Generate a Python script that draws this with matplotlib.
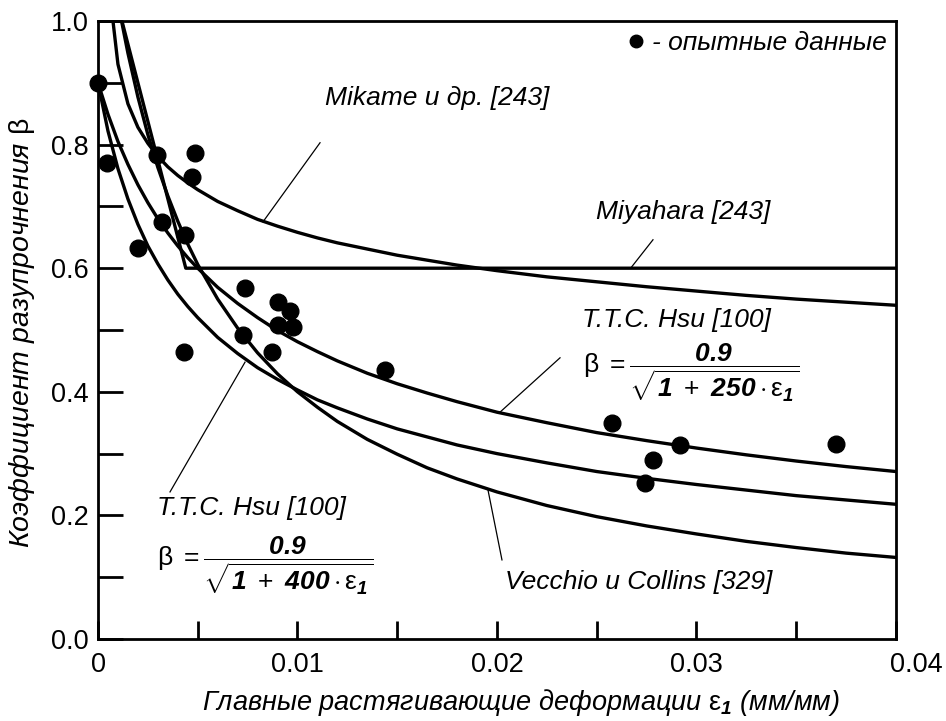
import matplotlib
matplotlib.use('Agg')
import matplotlib.pyplot as plt
from matplotlib.ticker import MultipleLocator, FixedLocator
from matplotlib.transforms import ScaledTranslation

plt.rcParams['font.family'] = ['Liberation Sans', 'DejaVu Sans']
plt.rcParams['mathtext.fontset'] = 'custom'
plt.rcParams['mathtext.rm'] = 'Liberation Sans'
plt.rcParams['mathtext.it'] = 'Liberation Sans:italic'
plt.rcParams['mathtext.bf'] = 'Liberation Sans:bold:italic'

# experimental points (strain, beta)
exp_eps = [0.0, 0.00045, 0.0020, 0.00296, 0.0032, 0.00431, 0.00436, 0.00471, 0.00486,
           0.00727, 0.00737, 0.00872, 0.00902, 0.00902, 0.00962, 0.00977, 0.01439,
           0.02576, 0.02742, 0.02782, 0.02917, 0.0370]
exp_beta = [0.900, 0.770, 0.633, 0.783, 0.675, 0.464, 0.654, 0.748, 0.786,
            0.492, 0.568, 0.464, 0.545, 0.508, 0.531, 0.505, 0.435,
            0.349, 0.252, 0.290, 0.314, 0.316]

# Hsu curves
hsu_eps = [0.0, 0.0005, 0.001, 0.0015, 0.002, 0.0025, 0.003, 0.0035, 0.004, 0.0045,
           0.005, 0.006, 0.007, 0.008, 0.009, 0.01, 0.011, 0.012, 0.0135, 0.015,
           0.0165, 0.018, 0.02, 0.0225, 0.025, 0.0275, 0.03, 0.0325, 0.035, 0.0375, 0.04]
hsu250_beta = [0.900, 0.849, 0.805, 0.768, 0.735, 0.706, 0.680, 0.657, 0.636, 0.617,
               0.600, 0.569, 0.543, 0.520, 0.499, 0.481, 0.465, 0.450, 0.430, 0.413,
               0.398, 0.384, 0.367, 0.350, 0.334, 0.321, 0.309, 0.298, 0.288, 0.279, 0.271]
hsu400_beta = [0.900, 0.822, 0.761, 0.712, 0.671, 0.636, 0.607, 0.581, 0.558, 0.538,
               0.520, 0.488, 0.462, 0.439, 0.420, 0.403, 0.387, 0.374, 0.356, 0.340,
               0.327, 0.314, 0.300, 0.285, 0.271, 0.260, 0.250, 0.241, 0.232, 0.225, 0.218]

# Vecchio & Collins
vc_eps = [0.00118, 0.0015, 0.002, 0.0025, 0.003, 0.0035, 0.004, 0.0045, 0.005, 0.006,
          0.007, 0.008, 0.009, 0.01, 0.011, 0.012, 0.0135, 0.015, 0.0165, 0.018, 0.02,
          0.0225, 0.025, 0.0275, 0.03, 0.0325, 0.035, 0.0375, 0.04]
vc_beta = [1.000, 0.948, 0.877, 0.816, 0.763, 0.717, 0.676, 0.639, 0.606, 0.550,
           0.503, 0.463, 0.429, 0.400, 0.375, 0.352, 0.323, 0.299, 0.277, 0.259, 0.238,
           0.216, 0.198, 0.183, 0.170, 0.158, 0.148, 0.139, 0.132]

# Mikame et al.
mik_eps = [0.00075, 0.001, 0.0015, 0.002, 0.0025, 0.003, 0.0035, 0.004, 0.0045, 0.005,
           0.006, 0.007, 0.008, 0.009, 0.01, 0.011, 0.012, 0.0135, 0.015, 0.0165, 0.018,
           0.02, 0.0225, 0.025, 0.0275, 0.03, 0.0325, 0.035, 0.0375, 0.04]
mik_beta = [1.000, 0.930, 0.866, 0.828, 0.802, 0.781, 0.764, 0.750, 0.738, 0.727,
            0.708, 0.693, 0.679, 0.668, 0.658, 0.649, 0.641, 0.631, 0.621, 0.613, 0.605,
            0.596, 0.586, 0.578, 0.570, 0.563, 0.556, 0.550, 0.545, 0.540]

# Miyahara
miy_eps = [0.0, 0.0012, 0.0044, 0.04]
miy_beta = [1.0, 1.0, 0.6, 0.6]

fig = plt.figure(figsize=(9.46, 7.21), dpi=100)
ax = fig.add_axes([0.1036, 0.1137, 0.8435, 0.8572])

lw = 2.4
for xs, ys in [(hsu_eps, hsu250_beta), (hsu_eps, hsu400_beta), (vc_eps, vc_beta),
               (mik_eps, mik_beta), (miy_eps, miy_beta)]:
    ax.plot(xs, ys, color='black', lw=lw, solid_joinstyle='round')

pts, = ax.plot(exp_eps, exp_beta, 'o', color='black', ms=12, clip_on=False, zorder=5,
               label='- опытные данные')

ax.set_xlim(0, 0.04)
ax.set_ylim(0, 1.0)

ax.xaxis.set_major_locator(FixedLocator([0, 0.01, 0.02, 0.03, 0.04]))
ax.xaxis.set_minor_locator(MultipleLocator(0.005))
ax.set_xticklabels(['0', '0.01', '0.02', '0.03', '0.04'])
ax.yaxis.set_minor_locator(MultipleLocator(0.1))
ax.set_yticks([0, 0.2, 0.4, 0.6, 0.8, 1.0])
ax.set_yticklabels(['0.0', '0.2', '0.4', '0.6', '0.8', '1.0'])

ax.tick_params(axis='x', which='both', direction='in', length=13, width=2, pad=9,
               labelsize=19.5, top=False)
ax.tick_params(axis='y', which='both', direction='in', length=18, width=2, pad=7,
               labelsize=19.5, right=False)
for s in ax.spines.values():
    s.set_linewidth(2)

# last x tick label sits to the right of the corner, as in the original
last = ax.get_xticklabels()[-1]
last.set_transform(last.get_transform() + ScaledTranslation(15 / 72, 0, fig.dpi_scale_trans))

ax.set_xlabel(r'Главные растягивающие деформации $\mathrm{\varepsilon}_\mathbf{1}$ (мм/мм)',
              fontsize=19.5, style='italic')
ax.xaxis.set_label_coords(0.53, -0.078)
ax.set_ylabel(r'Коэффициент разупрочнения $\mathrm{\beta}$', fontsize=20.5, style='italic')
ax.yaxis.set_label_coords(-0.077, 0.495)

ax.legend(handles=[pts], loc='center right', bbox_to_anchor=(0.988, 0.964),
          frameon=False, handlelength=0.5, handletextpad=0.35, markerscale=0.75,
          prop={'style': 'italic', 'size': 19}, borderaxespad=0, borderpad=0)

tk = dict(fontsize=19, style='italic', color='black')
ax.text(0.01138, 0.875, 'Mikame и др. [243]', ha='left', va='center', **tk)
ax.plot([0.01113, 0.00827], [0.803, 0.675], color='black', lw=0.9)

ax.text(0.02496, 0.691, 'Miyahara [243]', ha='left', va='center', **tk)
ax.plot([0.02782, 0.0267], [0.646, 0.6], color='black', lw=0.9)

ax.text(0.02426, 0.516, 'T.T.C. Hsu [100]', ha='left', va='center', **tk)
ax.text(0.02431, 0.430,
        r'$\mathrm{\beta}\ =\dfrac{\mathbf{0.9}}{\sqrt{\mathbf{1}\ +\ \mathbf{250}\cdot\mathrm{\varepsilon}_\mathbf{1}}}$',
        ha='left', va='center', fontsize=19)
ax.plot([0.02316, 0.02015], [0.455, 0.367], color='black', lw=0.9)

ax.text(0.00296, 0.212, 'T.T.C. Hsu [100]', ha='left', va='center', **tk)
ax.text(0.00296, 0.118,
        r'$\mathrm{\beta}\ =\dfrac{\mathbf{0.9}}{\sqrt{\mathbf{1}\ +\ \mathbf{400}\cdot\mathrm{\varepsilon}_\mathbf{1}}}$',
        ha='left', va='center', fontsize=19)
ax.plot([0.00361, 0.00737], [0.238, 0.448], color='black', lw=0.9)

ax.text(0.0204, 0.092, 'Vecchio и Collins [329]', ha='left', va='center', **tk)
ax.plot([0.02025, 0.01955], [0.128, 0.241], color='black', lw=0.9)

fig.savefig('out.png', dpi=100)
